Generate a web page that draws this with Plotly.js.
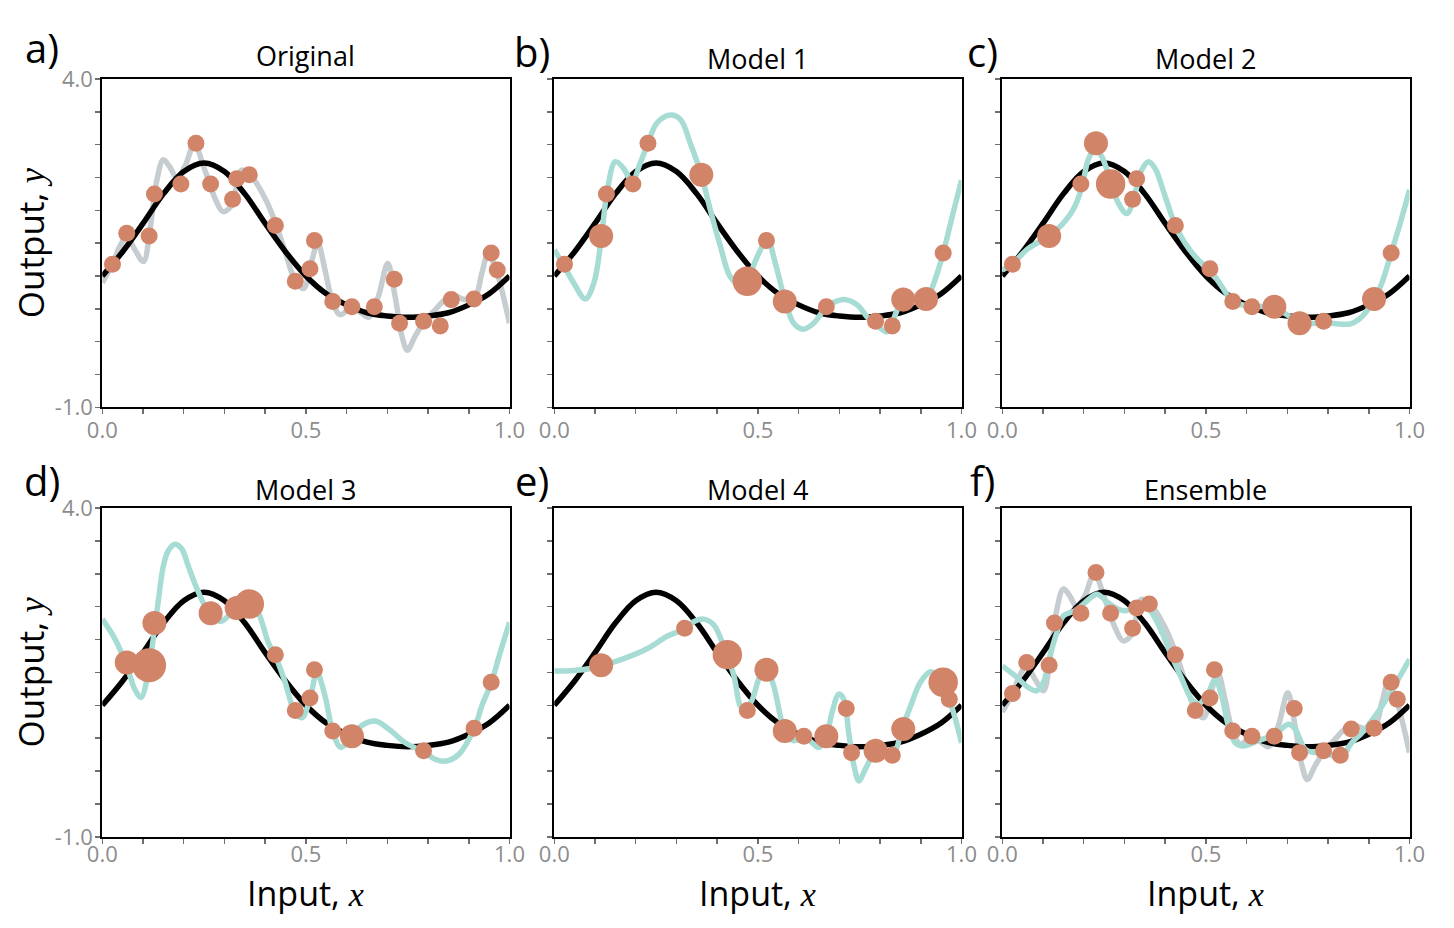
<!DOCTYPE html>
<html>
<head>
<meta charset="utf-8">
<script src="https://cdn.plot.ly/plotly-3.0.1.min.js"></script>
<style>html,body{margin:0;padding:0;background:#fff;}#chart{width:1454px;height:928px;}</style>
</head>
<body>
<div id="chart"></div>
<script>
// ---------- data ----------
const dataX = [0.025,0.060,0.115,0.128,0.193,0.230,0.266,0.320,0.330,0.361,0.425,0.474,0.510,0.521,0.566,0.613,0.668,0.717,0.730,0.789,0.830,0.857,0.913,0.955,0.970];
const dataY = [1.18,1.65,1.61,2.25,2.40,3.02,2.40,2.17,2.48,2.54,1.77,0.92,1.11,1.54,0.61,0.53,0.53,0.95,0.28,0.31,0.24,0.64,0.65,1.35,1.09];

// bootstrap counts (how many times each point was drawn) per model
const counts1 = [1,0,2,1,1,1,0,0,0,2,0,3,0,1,2,0,1,0,0,1,1,2,2,1,0];
const counts2 = [1,0,2,0,1,2,3,1,1,0,1,0,1,0,1,1,2,0,2,1,0,0,2,1,0];
const counts3 = [0,2,4,2,0,0,2,0,2,3,1,1,1,1,1,2,0,0,0,1,0,0,1,1,0];
const counts4 = [0,0,2,0,0,0,0,1,0,0,3,1,0,2,2,1,2,1,1,2,1,2,0,3,1];

// true function (black)
const trueX = [0,0.05,0.1,0.15,0.2,0.25,0.3,0.35,0.4,0.45,0.5,0.55,0.6,0.65,0.7,0.75,0.8,0.85,0.9,0.95,1.0];
const trueY = [1.00,1.37,1.80,2.25,2.59,2.72,2.59,2.25,1.80,1.37,1.00,0.73,0.56,0.44,0.39,0.37,0.39,0.44,0.56,0.73,1.00];

// original model fit (grey)
const origX = [0,0.025,0.043,0.060,0.080,0.101,0.117,0.134,0.150,0.166,0.183,0.203,0.226,0.252,0.277,0.297,0.318,0.342,0.367,0.400,0.424,0.449,0.473,0.494,0.514,0.529,0.547,0.564,0.584,0.613,0.637,0.654,0.678,0.701,0.719,0.736,0.749,0.768,0.789,0.817,0.842,0.867,0.891,0.916,0.932,0.947,0.965,0.981,1.0];
const origY = [0.90,1.18,1.45,1.60,1.40,1.22,1.70,2.46,2.77,2.66,2.49,2.67,3.00,2.61,2.18,1.98,2.08,2.61,2.51,2.18,1.83,1.37,0.94,0.81,1.22,1.50,1.09,0.64,0.41,0.52,0.43,0.37,0.69,1.19,0.69,0.08,-0.13,0.08,0.29,0.48,0.64,0.69,0.64,0.69,1.04,1.32,1.14,0.79,0.28];

// model 1
const m1X = [0,0.025,0.048,0.076,0.097,0.115,0.129,0.150,0.170,0.191,0.211,0.230,0.252,0.285,0.310,0.334,0.361,0.383,0.408,0.432,0.457,0.474,0.498,0.523,0.543,0.566,0.588,0.611,0.637,0.668,0.695,0.715,0.744,0.768,0.789,0.817,0.842,0.857,0.883,0.916,0.932,0.955,0.977,1.0];
const m1Y = [1.40,1.14,0.89,0.65,0.89,1.55,2.26,2.74,2.64,2.44,2.72,3.02,3.33,3.45,3.38,3.02,2.54,2.01,1.45,0.99,0.86,0.94,1.29,1.55,1.19,0.64,0.28,0.19,0.28,0.53,0.62,0.64,0.56,0.38,0.27,0.15,0.48,0.64,0.69,0.69,0.89,1.35,1.90,2.46];

// model 2
const m2X = [0,0.025,0.064,0.115,0.146,0.174,0.195,0.211,0.228,0.244,0.265,0.285,0.306,0.326,0.342,0.359,0.375,0.400,0.425,0.449,0.482,0.510,0.539,0.566,0.613,0.668,0.699,0.730,0.789,0.826,0.854,0.883,0.913,0.932,0.955,0.977,1.0];
const m2Y = [1.09,1.19,1.42,1.61,1.78,2.01,2.34,2.77,2.94,2.82,2.46,2.11,1.95,2.26,2.61,2.74,2.64,2.21,1.77,1.50,1.24,1.09,0.84,0.61,0.54,0.52,0.41,0.28,0.29,0.27,0.27,0.38,0.64,0.89,1.35,1.80,2.31];

// model 3
const m3X = [0,0.031,0.060,0.080,0.095,0.113,0.125,0.138,0.150,0.162,0.179,0.195,0.211,0.228,0.252,0.273,0.293,0.326,0.359,0.383,0.408,0.425,0.449,0.473,0.490,0.510,0.527,0.547,0.566,0.586,0.613,0.637,0.670,0.703,0.744,0.789,0.817,0.842,0.875,0.913,0.932,0.955,0.977,1.0];
const m3Y = [2.31,2.01,1.60,1.24,1.12,1.50,2.01,2.61,3.12,3.35,3.45,3.38,3.12,2.84,2.51,2.31,2.28,2.46,2.59,2.41,1.95,1.75,1.35,0.89,0.81,1.09,1.50,1.14,0.60,0.36,0.53,0.69,0.76,0.64,0.43,0.29,0.18,0.15,0.25,0.64,0.99,1.34,1.80,2.26];

// model 4
const m4X = [0,0.048,0.089,0.115,0.162,0.228,0.277,0.320,0.342,0.367,0.392,0.416,0.425,0.441,0.461,0.482,0.506,0.523,0.539,0.555,0.566,0.588,0.613,0.633,0.650,0.668,0.682,0.699,0.711,0.723,0.736,0.748,0.764,0.789,0.813,0.834,0.854,0.875,0.899,0.924,0.948,0.971,0.985,1.0];
const m4Y = [1.52,1.53,1.56,1.60,1.69,1.86,2.05,2.16,2.27,2.31,2.22,1.90,1.75,1.45,0.96,1.04,1.45,1.53,1.29,0.84,0.60,0.46,0.53,0.43,0.36,0.52,0.89,1.17,1.09,0.58,0.08,-0.15,0.03,0.29,0.28,0.28,0.64,0.99,1.35,1.51,1.40,1.07,0.79,0.43];

// ensemble mean
const ensX = [0,0.031,0.064,0.084,0.101,0.117,0.134,0.150,0.179,0.203,0.232,0.260,0.285,0.306,0.326,0.346,0.367,0.392,0.416,0.441,0.465,0.482,0.506,0.523,0.539,0.555,0.572,0.592,0.629,0.670,0.703,0.719,0.744,0.768,0.793,0.830,0.858,0.883,0.916,0.948,1.0];
const ensY = [1.60,1.45,1.27,1.22,1.35,1.75,2.11,2.36,2.44,2.56,2.69,2.56,2.46,2.44,2.51,2.56,2.41,2.11,1.75,1.40,1.09,1.02,1.19,1.40,1.14,0.69,0.43,0.38,0.46,0.56,0.71,0.64,0.33,0.28,0.28,0.20,0.43,0.58,0.84,1.14,1.70];

const panelTitles = ["Original","Model 1","Model 2","Model 3","Model 4","Ensemble"];
const panelLetters = ["a)","b)","c)","d)","e)","f)"];
const xTickVals = [0,0.1,0.2,0.3,0.4,0.5,0.6,0.7,0.8,0.9,1.0];
const xTickText = ["0.0","","","","","0.5","","","","","1.0"];
const yTickVals = [-1,-0.5,0,0.5,1,1.5,2,2.5,3,3.5,4];
const yTickText = ["-1.0","","","","","","","","","","4.0"];

// ---------- styling ----------
const W = 1454, H = 928;
const BLACK = "#000000", CYAN = "#a7dcd5", GREY = "#c6cdd0", ORANGE = "#d18468";
const FONT = "'Open Sans', 'DejaVu Sans', sans-serif";
const LW = 5.5, BASE = 17;

const colsPx = [[102.3,509.5],[554.3,961.5],[1002.3,1409.5]];
const rowsPx = [[79,407.3],[508,836.8]];
const standoff = [-3, -8];

const traces = [];
const layout = {
  width: W, height: H, margin: {l:0,r:0,t:0,b:0},
  paper_bgcolor: "#fff", plot_bgcolor: "#fff", showlegend: false,
  font: {family: FONT, color: "#000"},
  annotations: []
};

function lineTrace(x, y, color, ax) {
  return {x: x, y: y, type: "scatter", mode: "lines", xaxis: "x"+ax, yaxis: "y"+ax,
          line: {color: color, width: LW, shape: "spline", smoothing: 1.0}, hoverinfo: "skip"};
}
function pointTrace(counts, ax) {
  const px = [], py = [], ps = [];
  for (let i = 0; i < dataX.length; i++) {
    const c = counts ? counts[i] : 1;
    if (c > 0) { px.push(dataX[i]); py.push(dataY[i]); ps.push(BASE*Math.sqrt(c)); }
  }
  return {x: px, y: py, type: "scatter", mode: "markers", xaxis: "x"+ax, yaxis: "y"+ax,
          marker: {color: ORANGE, size: ps, line: {width: 0}, opacity: 1}, cliponaxis: false, hoverinfo: "skip"};
}

const fits = [null, [m1X,m1Y], [m2X,m2Y], [m3X,m3Y], [m4X,m4Y], [ensX,ensY]];
const countsList = [null, counts1, counts2, counts3, counts4, null];

for (let p = 0; p < 6; p++) {
  const r = Math.floor(p/3), c = p % 3;
  const ax = p === 0 ? "" : String(p+1);
  const xName = "xaxis" + ax, yName = "yaxis" + ax;
  const xd = [colsPx[c][0]/W, colsPx[c][1]/W];
  const yd = [1 - rowsPx[r][1]/H, 1 - rowsPx[r][0]/H];
  layout[xName] = {
    domain: xd, range: [0,1], anchor: "y"+ax, showgrid: false, zeroline: false,
    showline: true, mirror: true, linecolor: "#000", linewidth: 2,
    ticks: "outside", ticklen: 5, tickwidth: 1.5, tickcolor: "#6e6e6e",
    tickmode: "array", tickvals: xTickVals, ticktext: xTickText,
    ticklabelstandoff: standoff[r],
    tickfont: {family: FONT, size: 22, color: "#8c8c8c"}, fixedrange: true
  };
  layout[yName] = {
    domain: yd, range: [-1,4], anchor: "x"+ax, showgrid: false, zeroline: false,
    showline: true, mirror: true, linecolor: "#000", linewidth: 2,
    ticks: "outside", ticklen: 5, tickwidth: 1.5, tickcolor: "#6e6e6e",
    tickmode: "array", tickvals: yTickVals, ticktext: yTickText,
    showticklabels: c === 0, ticklabelstandoff: -2,
    tickfont: {family: FONT, size: 22, color: "#8c8c8c"}, fixedrange: true
  };

  if (p === 0 || p === 5) traces.push(lineTrace(origX, origY, GREY, ax));
  traces.push(lineTrace(trueX, trueY, BLACK, ax));
  if (fits[p]) traces.push(lineTrace(fits[p][0], fits[p][1], CYAN, ax));
  traces.push(pointTrace(countsList[p], ax));

  const cx = (colsPx[c][0] + colsPx[c][1]) / 2;
  const titleY = (p === 0) ? 55 : (r === 0 ? 58 : 489);
  layout.annotations.push({text: panelTitles[p], xref: "paper", yref: "paper",
    x: cx/W, y: 1 - titleY/H, xanchor: "center", yanchor: "middle", showarrow: false,
    font: {family: FONT, size: 27, color: "#000"}});
  const lx = [42, 532, 983][c], ly = (r === 0) ? (c === 0 ? 48 : 52) : 480;
  layout.annotations.push({text: panelLetters[p], xref: "paper", yref: "paper",
    x: lx/W, y: 1 - ly/H, xanchor: "center", yanchor: "middle", showarrow: false,
    font: {family: FONT, size: 40, color: "#000"}});
  if (c === 0) {
    const cy = (rowsPx[r][0] + rowsPx[r][1]) / 2;
    layout.annotations.push({text: "Output, <span style=\"font-family:'Liberation Serif',serif\"><i>y</i></span>",
      xref: "paper", yref: "paper", x: 30/W, y: 1 - cy/H, xanchor: "center", yanchor: "middle",
      textangle: -90, showarrow: false, font: {family: FONT, size: 35, color: "#000"}});
  }
  if (r === 1) {
    layout.annotations.push({text: "Input, <span style=\"font-family:'Liberation Serif',serif\"><i>x</i></span>",
      xref: "paper", yref: "paper", x: cx/W, y: 1 - 893/H, xanchor: "center", yanchor: "middle",
      showarrow: false, font: {family: FONT, size: 34, color: "#000"}});
  }
}

Plotly.newPlot("chart", traces, layout, {staticPlot: true, displayModeBar: false});
</script>
</body>
</html>
